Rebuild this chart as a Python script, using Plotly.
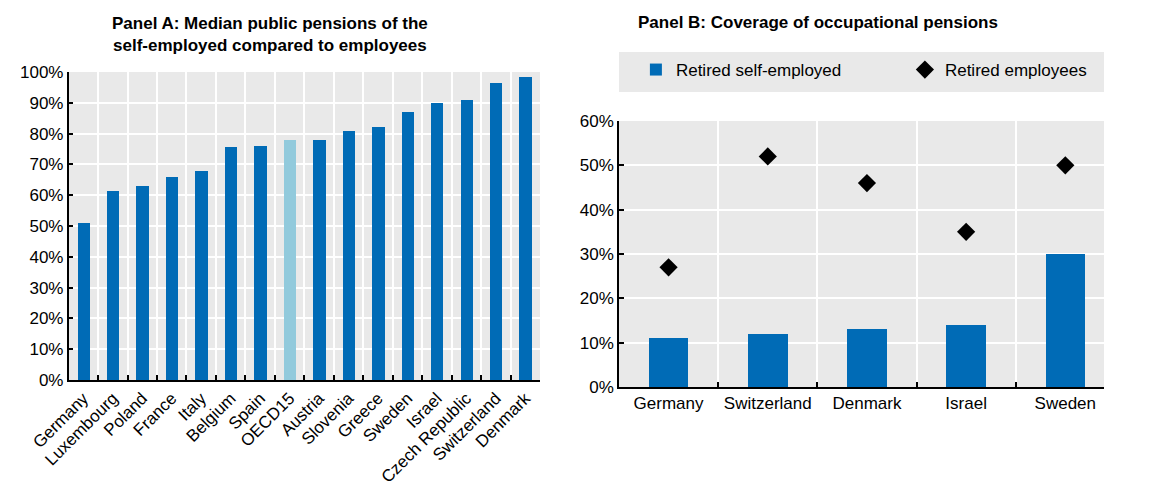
import plotly.graph_objects as go

# Panel A data
countries_a = ["Germany", "Luxembourg", "Poland", "France", "Italy", "Belgium", "Spain", "OECD15",
               "Austria", "Slovenia", "Greece", "Sweden", "Israel", "Czech Republic", "Switzerland", "Denmark"]
values_a = [51, 61.5, 63, 66, 68, 75.5, 76, 78, 78, 81, 82, 87, 90, 91, 96.5, 98.5]

# Panel B data
countries_b = ["Germany", "Switzerland", "Denmark", "Israel", "Sweden"]
self_employed_b = [11, 12, 13, 14, 30]
employees_b = [27, 52, 46, 35, 50]

BLUE = "#006BB6"
LIGHT = "#92CADC"
BG = "#E9E9E9"
FONT = "Liberation Sans, Arial, sans-serif"

colors_a = [LIGHT if c == "OECD15" else BLUE for c in countries_a]

fig = go.Figure()
fig.add_trace(go.Bar(x=countries_a, y=values_a, marker=dict(color=colors_a, line=dict(width=0)),
                     width=0.42, showlegend=False, xaxis="x", yaxis="y"))
fig.add_trace(go.Bar(x=countries_b, y=self_employed_b, name="Retired self-employed",
                     marker=dict(color=BLUE, line=dict(width=0)), width=0.4, xaxis="x2", yaxis="y2"))
fig.add_trace(go.Scatter(x=countries_b, y=employees_b, name="Retired employees", mode="markers",
                         marker=dict(symbol="diamond", size=14, color="black"), xaxis="x2", yaxis="y2"))

W, H = 1166, 476
OX, OY = 8.0, 8.0
def px_x(p): return min(1.0, max(0.0, (p - OX) / W))
def px_y(p): return min(1.0, max(0.0, 1 - (p - OY) / H))

axis_common = dict(showline=True, linecolor="black", linewidth=1.5, ticks="inside", tickcolor="black",
                   ticklen=5, tickwidth=1.5, automargin=False,
                   tickfont=dict(family=FONT, size=17, color="black"))

fig.update_layout(
    template="none",
    width=W, height=H, margin=dict(l=0, r=0, t=0, b=0, pad=0), autosize=False,
    paper_bgcolor="white", plot_bgcolor=BG, font=dict(family=FONT, color="black"),
    bargap=0,
    xaxis=dict(domain=[px_x(72.5), px_x(574)], type="category", tickson="boundaries",
               showgrid=True, gridcolor="white", gridwidth=2, tickangle=-45,
               range=[-0.5, 15.5], anchor="y", **axis_common),
    yaxis=dict(domain=[px_y(380), px_y(72)], range=[0, 100], dtick=10, ticksuffix="%",
               anchor="x", showgrid=True, gridcolor="white", gridwidth=2, zeroline=False, **axis_common),
    xaxis2=dict(domain=[px_x(658), px_x(1174)], type="category", tickson="boundaries",
                showgrid=True, gridcolor="white", gridwidth=2, tickangle=0,
                range=[-0.5, 4.39], anchor="y2", **axis_common),
    yaxis2=dict(domain=[px_y(387), px_y(121)], range=[0, 60], dtick=10, ticksuffix="%",
                anchor="x2", showgrid=True, gridcolor="white", gridwidth=2, zeroline=False, **axis_common),
    legend=dict(orientation="h", x=px_x(676), y=px_y(70), xanchor="left", yanchor="middle",
                bgcolor="rgba(0,0,0,0)", font=dict(family=FONT, size=17, color="black"),
                entrywidth=224, itemwidth=30, traceorder="normal"),
    shapes=[dict(type="rect", xref="paper", yref="paper", x0=px_x(658), x1=px_x(1174),
                 y0=px_y(92), y1=px_y(52), fillcolor=BG, line=dict(width=0), layer="below")],
    annotations=[
        dict(text="<b>Panel A: Median public pensions of the<br>self-employed compared to employees</b>",
             xref="paper", yref="paper", x=px_x(287), y=px_y(34), xanchor="center", yanchor="middle",
             showarrow=False, font=dict(family=FONT, size=17, color="black")),
        dict(text="<b>Panel B: Coverage of occupational pensions</b>",
             xref="paper", yref="paper", x=px_x(870), y=px_y(22), xanchor="center", yanchor="middle",
             showarrow=False, font=dict(family=FONT, size=17, color="black")),
    ],
)

fig.write_html("out.html")
